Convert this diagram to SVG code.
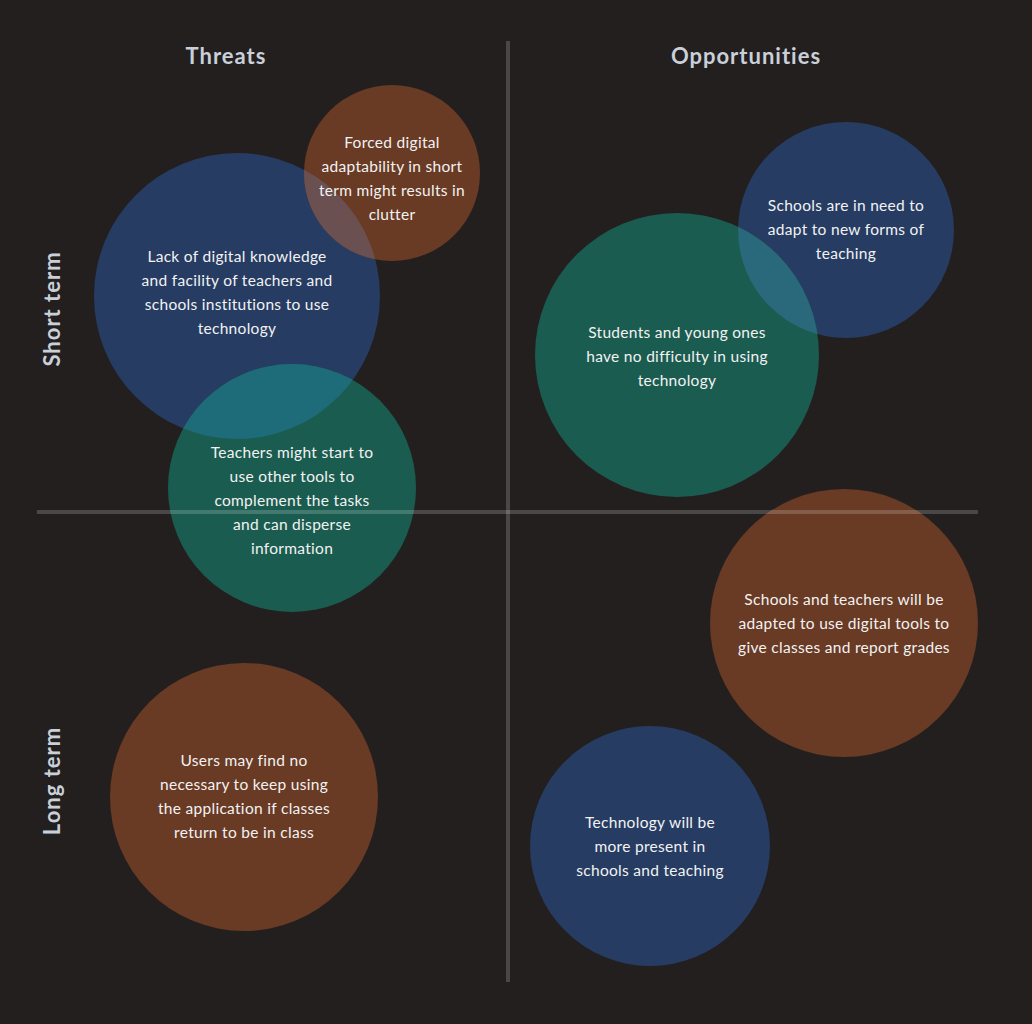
<svg xmlns="http://www.w3.org/2000/svg" width="1032" height="1024" viewBox="0 0 1032 1024">
<style>
.bg{fill:#231f1f}
.blue{fill:#263c62}
.green{fill:#1b5c50}
.brown{fill:#693a24}
.t{font-family:Lato,"Liberation Sans",sans-serif;font-size:15.5px;letter-spacing:0.3px;fill:#f2f2f2;text-anchor:middle}
.h{font-family:Lato,"Liberation Sans",sans-serif;font-size:22px;letter-spacing:1px;font-weight:bold;fill:#c9d0da;text-anchor:middle}
.axis{stroke:#ffffff;stroke-opacity:0.18;stroke-width:4;fill:none}
</style>
<defs>
<clipPath id="cBlueT"><circle cx="237" cy="296" r="143"/></clipPath>
<clipPath id="cBlueO"><circle cx="846" cy="230" r="108"/></clipPath>
</defs>
<rect class="bg" x="0" y="0" width="1032" height="1024"/>

<g id="headers">
<text class="h" x="226" y="64">Threats</text>
<text class="h" x="746" y="64">Opportunities</text>
<text class="h" transform="translate(60,309) rotate(-90)">Short term</text>
<text class="h" transform="translate(60,781) rotate(-90)">Long term</text>
</g>

<g id="node-lack">
<circle class="blue" cx="237" cy="296" r="143"/>
</g>
<g id="node-forced">
<circle class="brown" cx="392" cy="173" r="88"/>
<circle cx="392" cy="173" r="88" fill="#6a5050" clip-path="url(#cBlueT)"/>
</g>
<g id="node-teachers">
<circle class="green" cx="292" cy="488" r="124"/>
<circle cx="292" cy="488" r="124" fill="#1e6c7a" clip-path="url(#cBlueT)"/>
</g>
<g id="node-schools-need">
<circle class="blue" cx="846" cy="230" r="108"/>
</g>
<g id="node-students">
<circle class="green" cx="677" cy="355" r="142"/>
<circle cx="677" cy="355" r="142" fill="#2a687c" clip-path="url(#cBlueO)"/>
</g>
<g id="node-adapted">
<circle class="brown" cx="844" cy="623" r="134"/>
</g>
<g id="node-technology">
<circle class="blue" cx="650" cy="846" r="120"/>
</g>
<g id="node-users">
<circle class="brown" cx="244" cy="797" r="134"/>
</g>

<g id="connectors">
<line class="axis" x1="508" y1="41" x2="508" y2="982"/>
<line class="axis" x1="37" y1="512" x2="978" y2="512"/>
</g>

<g id="labels">
<text class="t" x="392" y="148">Forced digital</text>
<text class="t" x="392" y="172">adaptability in short</text>
<text class="t" x="392" y="196">term might results in</text>
<text class="t" x="392" y="220">clutter</text>

<text class="t" x="237" y="262">Lack of digital knowledge</text>
<text class="t" x="237" y="286">and facility of teachers and</text>
<text class="t" x="237" y="310">schools institutions to use</text>
<text class="t" x="237" y="334">technology</text>

<text class="t" x="292" y="458">Teachers might start to</text>
<text class="t" x="292" y="482">use other tools to</text>
<text class="t" x="292" y="506">complement the tasks</text>
<text class="t" x="292" y="530">and can disperse</text>
<text class="t" x="292" y="554">information</text>

<text class="t" x="846" y="211">Schools are in need to</text>
<text class="t" x="846" y="235">adapt to new forms of</text>
<text class="t" x="846" y="259">teaching</text>

<text class="t" x="677" y="338">Students and young ones</text>
<text class="t" x="677" y="362">have no difficulty in using</text>
<text class="t" x="677" y="386">technology</text>

<text class="t" x="844" y="605">Schools and teachers will be</text>
<text class="t" x="844" y="629">adapted to use digital tools to</text>
<text class="t" x="844" y="653">give classes and report grades</text>

<text class="t" x="650" y="828">Technology will be</text>
<text class="t" x="650" y="852">more present in</text>
<text class="t" x="650" y="876">schools and teaching</text>

<text class="t" x="244" y="766">Users may find no</text>
<text class="t" x="244" y="790">necessary to keep using</text>
<text class="t" x="244" y="814">the application if classes</text>
<text class="t" x="244" y="838">return to be in class</text>
</g>
</svg>
